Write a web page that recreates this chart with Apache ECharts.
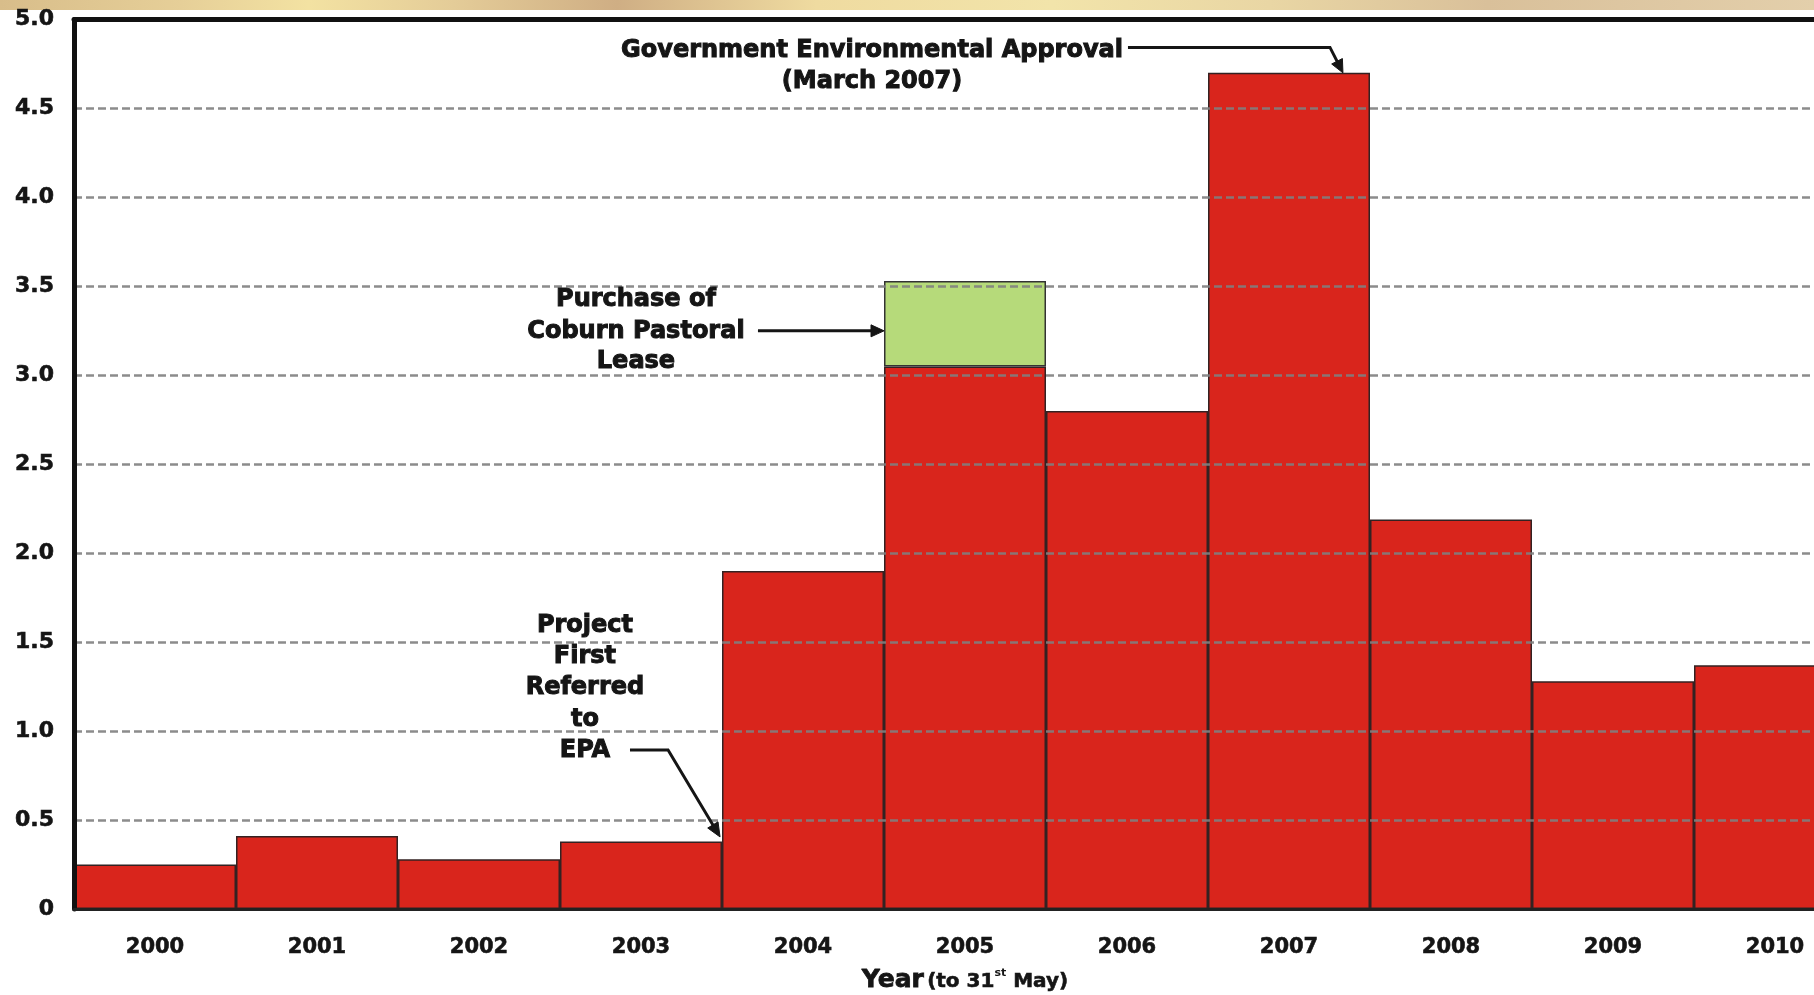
<!DOCTYPE html>
<html>
<head>
<meta charset="utf-8">
<style>
html,body{margin:0;padding:0;background:#fff;}
#chart{width:1814px;height:995px;}
</style>
<script src="https://cdn.jsdelivr.net/npm/echarts@6/dist/echarts.min.js"></script>
</head>
<body>
<div id="chart"></div>
<script>
// ---- data ----
const categories = ['2000','2001','2002','2003','2004','2005','2006','2007','2008','2009','2010'];
const baseValues = [0.25, 0.41, 0.28, 0.38, 1.90, 3.05, 2.80, 4.70, 2.19, 1.28, 1.37];
const leaseValues = [null, null, null, null, null, 0.48, null, null, null, null, null];
const yTickLabels = ['0','0.5','1.0','1.5','2.0','2.5','3.0','3.5','4.0','4.5','5.0'];

// annotation anchors in data space: [category position, value]
const noteGovLines = ['Government Environmental Approval', '(March 2007)'];
const noteGovAnchor = [4.426, [4.826, 4.65]];
const noteGovArrow = [[6.006, 4.843], [7.253, 4.843], [7.333, 4.70]];

const notePurchaseLines = ['Purchase of', 'Coburn Pastoral', 'Lease'];
const notePurchaseAnchor = [2.969, [3.425, 3.245, 3.077]];
const notePurchaseArrow = [[3.722, 3.25], [4.5, 3.25]];

const noteProjectLines = ['Project', 'First', 'Referred', 'to', 'EPA'];
const noteProjectAnchor = [2.654, [1.592, 1.417, 1.243, 1.063, 0.889]];
const noteProjectArrow = [[2.932, 0.894], [3.167, 0.894], [3.488, 0.405]];

// ---- chart ----
const FONT = 'DejaVu Sans';
const INK = '#151515';
const chart = echarts.init(document.getElementById('chart'), null, {renderer: 'canvas'});

const option = {
  animation: false,
  backgroundColor: '#ffffff',
  grid: {left: 74, right: -42, top: 19.5, bottom: 86, containLabel: false, outerBoundsMode: 'none'},
  xAxis: [
    {
      type: 'category', data: categories, position: 'bottom', z: 10,
      axisLine: {lineStyle: {color: '#222', width: 3}},
      axisTick: {show: false},
      axisLabel: {fontFamily: FONT, fontWeight: 'bold', fontSize: 21, color: INK, margin: 28,
                  textBorderColor: INK, textBorderWidth: 0.6},
      name: '{a|Year} {b|(to 31}{c|st}{b| May)}',
      nameLocation: 'middle', nameGap: 59,
      nameTextStyle: {
        rich: {
          a: {fontFamily: FONT, fontWeight: 'bold', fontSize: 25, color: INK, verticalAlign: 'bottom',
              textBorderColor: INK, textBorderWidth: 0.8},
          b: {fontFamily: FONT, fontWeight: 'bold', fontSize: 20, color: INK, verticalAlign: 'bottom', padding: [0, 0, 1, 0],
              textBorderColor: INK, textBorderWidth: 0.6},
          c: {fontFamily: FONT, fontWeight: 'bold', fontSize: 11, color: INK, verticalAlign: 'top'}
        }
      }
    },
    {
      type: 'category', data: categories, position: 'top', z: 10,
      axisLine: {lineStyle: {color: '#111', width: 5}},
      axisTick: {show: false},
      axisLabel: {show: false}
    }
  ],
  yAxis: {
    type: 'value', min: 0, max: 5, interval: 0.5, z: 10,
    axisLine: {show: true, lineStyle: {color: '#111', width: 5}},
    axisTick: {show: false},
    axisLabel: {
      formatter: function (v) { return yTickLabels[Math.round(v / 0.5)]; },
      fontFamily: FONT, fontWeight: 'bold', fontSize: 22, color: INK, margin: 20,
      textBorderColor: INK, textBorderWidth: 0.6
    },
    splitLine: {lineStyle: {type: [8, 4], color: '#808080', width: 2.5, opacity: 0.9}}
  },
  series: [
    {
      type: 'bar', stack: 'total', data: baseValues,
      barCategoryGap: '0%',
      itemStyle: {color: '#d9251c', borderColor: '#332222', borderWidth: 1.5}
    },
    {
      type: 'bar', stack: 'total', data: leaseValues,
      barCategoryGap: '0%',
      itemStyle: {color: '#b6da7a', borderColor: '#333', borderWidth: 1.5}
    }
  ],
  graphic: [
    {
      id: 'strip', type: 'rect', z: 0,
      shape: {x: 0, y: 0, width: 1814, height: 10},
      style: {
        fill: new echarts.graphic.LinearGradient(0, 0, 1, 0, [
          {offset: 0.00, color: '#d8bd8a'},
          {offset: 0.10, color: '#e6cf98'},
          {offset: 0.17, color: '#f3e2a2'},
          {offset: 0.25, color: '#e4cc98'},
          {offset: 0.34, color: '#cfae84'},
          {offset: 0.45, color: '#efdba0'},
          {offset: 0.58, color: '#f2e4aa'},
          {offset: 0.70, color: '#e9d6a4'},
          {offset: 0.82, color: '#d9c09a'},
          {offset: 1.00, color: '#e3cfab'}
        ])
      }
    }
  ]
};
chart.setOption(option);

// ---- annotations positioned through the axes ----
function px(c, v) {
  const x0 = chart.convertToPixel({xAxisIndex: 0}, 0);
  const x1 = chart.convertToPixel({xAxisIndex: 0}, 1);
  const y = chart.convertToPixel({yAxisIndex: 0}, v);
  return [x0 + c * (x1 - x0), y];
}

const graphics = [];
function addText(lines, anchor, size) {
  lines.forEach(function (t, i) {
    const p = px(anchor[0], anchor[1][i]);
    graphics.push({
      type: 'text', z: 100, x: p[0], y: p[1],
      style: {
        text: t, fill: INK, font: 'bold ' + size + 'px "' + FONT + '"',
        textAlign: 'center', textVerticalAlign: 'middle',
        stroke: INK, lineWidth: 1
      }
    });
  });
}
function addArrow(points, headLen, headHalf) {
  const pts = points.map(function (p) { return px(p[0], p[1]); });
  const tip = pts[pts.length - 1];
  const prev = pts[pts.length - 2];
  const dx = tip[0] - prev[0], dy = tip[1] - prev[1];
  const L = Math.sqrt(dx * dx + dy * dy);
  const ux = dx / L, uy = dy / L;
  const base = [tip[0] - ux * headLen, tip[1] - uy * headLen];
  const linePts = pts.slice(0, pts.length - 1).concat([[base[0] + ux * 1, base[1] + uy * 1]]);
  graphics.push({
    type: 'polyline', z: 100,
    shape: {points: linePts},
    style: {stroke: INK, lineWidth: 3, fill: null, lineJoin: 'miter'}
  });
  graphics.push({
    type: 'polygon', z: 100,
    shape: {points: [tip, [base[0] - uy * headHalf, base[1] + ux * headHalf], [base[0] + uy * headHalf, base[1] - ux * headHalf]]},
    style: {fill: INK, stroke: INK, lineWidth: 1}
  });
}

addText(noteGovLines, noteGovAnchor, 24);
addText(notePurchaseLines, notePurchaseAnchor, 24);
addText(noteProjectLines, noteProjectAnchor, 24);
addArrow(noteGovArrow, 13, 6);
addArrow(notePurchaseArrow, 13, 6);
addArrow(noteProjectArrow, 14, 6);

chart.setOption({graphic: graphics.map(function (g, i) { g.id = 'note' + i; return g; })});
</script>
</body>
</html>
